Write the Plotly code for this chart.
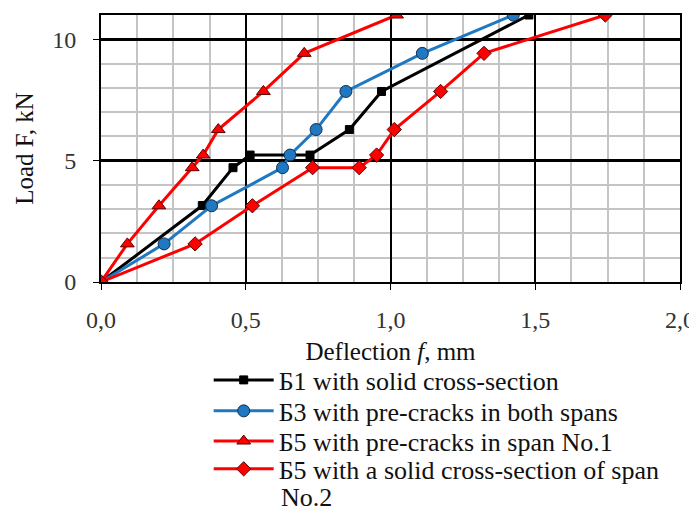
import plotly.graph_objects as go

# Б1 with solid cross-section
b1_x = [0.0, 0.35, 0.456, 0.515, 0.722, 0.858, 0.969, 1.478]
b1_y = [0.0, 3.15, 4.71, 5.23, 5.23, 6.28, 7.85, 11.0]

# Б3 with pre-cracks in both spans
b3_x = [0.0, 0.218, 0.382, 0.627, 0.653, 0.743, 0.846, 1.110, 1.424]
b3_y = [0.0, 1.57, 3.14, 4.71, 5.23, 6.28, 7.85, 9.42, 11.0]

# Б5 with pre-cracks in span No.1
b5a_x = [0.0, 0.091, 0.20, 0.315, 0.353, 0.405, 0.561, 0.702, 1.021]
b5a_y = [0.0, 1.57, 3.14, 4.71, 5.23, 6.28, 7.85, 9.42, 11.0]

# Б5 with a solid cross-section of span No.2
b5b_x = [0.0, 0.325, 0.523, 0.731, 0.892, 0.952, 1.013, 1.173, 1.323, 1.742]
b5b_y = [0.0, 1.57, 3.14, 4.71, 4.71, 5.23, 6.28, 7.85, 9.42, 11.0]

names = [
    "Б1 with solid cross-section",
    "Б3 with pre-cracks in both spans",
    "Б5 with pre-cracks in span No.1",
    "Б5 with a solid cross-section of span",
]
name4_cont = "No.2"

x_ticks = [0.0, 0.5, 1.0, 1.5, 2.0]
y_ticks = [0, 5, 10]

FONT = "Liberation Serif"
BLUE = "#1f78c1"
RED = "#ff0000"

fig = go.Figure()
fig.add_trace(go.Scatter(
    x=b1_x, y=b1_y, name=names[0], mode="lines+markers", legend="legend",
    line=dict(color="black", width=3),
    marker=dict(symbol="square", size=8, color="black", line=dict(color="black", width=1)),
))
fig.add_trace(go.Scatter(
    x=b3_x, y=b3_y, name=names[1], mode="lines+markers", legend="legend2",
    line=dict(color=BLUE, width=3),
    marker=dict(symbol="circle", size=12, color=BLUE, line=dict(color="#10304f", width=1)),
))
fig.add_trace(go.Scatter(
    x=b5a_x, y=b5a_y, name=names[2], mode="lines+markers", legend="legend3",
    line=dict(color=RED, width=3),
    marker=dict(symbol="triangle-up", size=12, color=RED, line=dict(color="#600000", width=1)),
))
fig.add_trace(go.Scatter(
    x=b5b_x, y=b5b_y, name=names[3], mode="lines+markers", legend="legend4",
    line=dict(color=RED, width=3),
    marker=dict(symbol="diamond", size=11, color=RED, line=dict(color="#600000", width=1)),
))

def leg(y):
    return dict(
        x=0.186, y=y, xanchor="left", yanchor="middle",
        font=dict(family=FONT, size=26, color="#111111"),
        bgcolor="rgba(0,0,0,0)", borderwidth=0, itemwidth=60,
    )

fig.update_layout(
    width=689, height=505,
    margin=dict(l=93, r=17, t=7, b=231, autoexpand=False),
    paper_bgcolor="white", plot_bgcolor="white",
    font=dict(family=FONT, size=24, color="#222222"),
    separators=", ",
    showlegend=True,
    legend=leg(-0.367),
    legend2=leg(-0.483),
    legend3=leg(-0.596),
    legend4=leg(-0.700),
    annotations=[dict(
        text=name4_cont, xref="paper", yref="paper", x=0.309, y=-0.808,
        xanchor="left", yanchor="middle", showarrow=False, borderpad=0,
        font=dict(family=FONT, size=26, color="#111111"),
    )],
    xaxis=dict(
        range=[0, 2.0], tickvals=x_ticks, tickformat=".1f",
        automargin=False,
        showgrid=True, gridcolor="black", gridwidth=1.5,
        minor=dict(dtick=0.125, showgrid=True, gridcolor="#c4c4c4", gridwidth=1.5, ticks=""),
        showline=True, linecolor="black", linewidth=2, mirror=True,
        ticks="outside", ticklen=6, tickcolor="black", tickwidth=1,
        ticklabelstandoff=9,
        tickfont=dict(family=FONT, size=24, color="#333333"),
        title=dict(text="Deflection <i>f</i>, mm", standoff=11,
                   font=dict(family=FONT, size=25, color="#111111")),
        zeroline=False,
    ),
    yaxis=dict(
        range=[0, 11], tickvals=y_ticks,
        automargin=False,
        showgrid=True, gridcolor="black", gridwidth=2.5,
        minor=dict(dtick=1, showgrid=True, gridcolor="#c4c4c4", gridwidth=1.5, ticks=""),
        showline=True, linecolor="black", linewidth=2, mirror=True,
        ticks="outside", ticklen=6, tickcolor="black", tickwidth=1,
        ticklabelstandoff=12,
        tickfont=dict(family=FONT, size=24, color="#333333"),
        title=dict(text="Load F, kN", standoff=11,
                   font=dict(family=FONT, size=25, color="#111111")),
        zeroline=False,
    ),
)

fig.write_html("out.html")
